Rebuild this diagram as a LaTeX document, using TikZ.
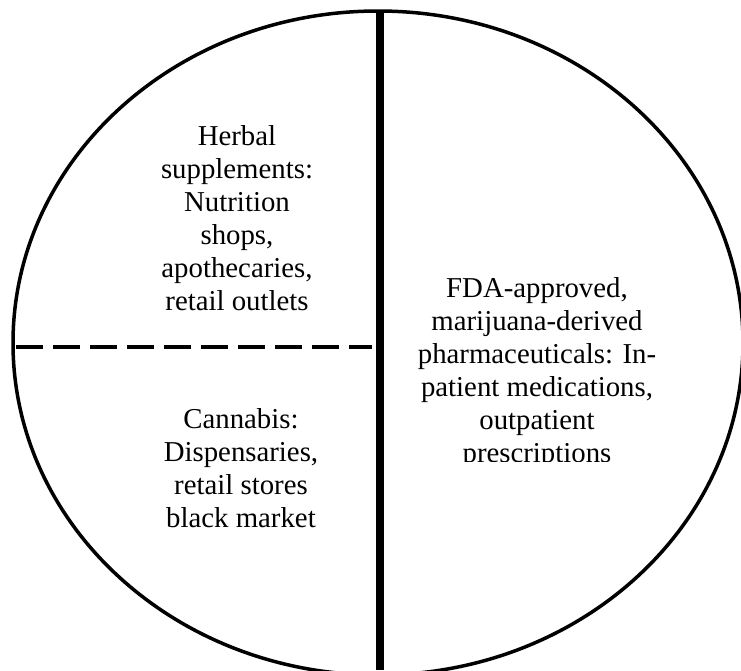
\documentclass[tikz,border=0pt]{standalone}
\usepackage{fontspec}
\setmainfont{Liberation Serif}
\begin{document}
\begin{tikzpicture}[x=1pt,y=-1pt]
            \tikzset{
                part text/.style={align=center,inner sep=0pt,anchor=north,font=\fontsize{28.8}{33}\selectfont},}
            \useasboundingbox (0,0) rectangle (741,670);
            \clip (0,0) rectangle (741,670);
            \draw [line width=3.5pt] (378,343) ellipse [x radius=365, y radius=332];
            \coordinate (top) at (380,11);
            \coordinate (bottom) at (380,670);
            \coordinate (left) at (16,347);
            \coordinate (mid) at (372,347);
            \draw [line width=8.5pt] (top) -- (bottom);
            \draw [line width=3.3pt,dash pattern=on 27pt off 10pt] (left) -- (mid);
            \node [part text] (herbal) at (237,125.3) {Herbal\\supplements:\\Nutrition\\shops,\\apothecaries,\\retail outlets};
            \node [part text] (cannabis) at (241,408.3) {Cannabis:\\Dispensaries,\\retail stores\\black market};
            \begin{scope}
                \clip (385,0) rectangle (741,461);
                \node [part text] (fda) at (537,277.3) {FDA-approved,\\marijuana-derived\\pharmaceuticals: In-\\patient medications,\\outpatient\\prescriptions};
            \end{scope}
        \end{tikzpicture}
\end{document}
